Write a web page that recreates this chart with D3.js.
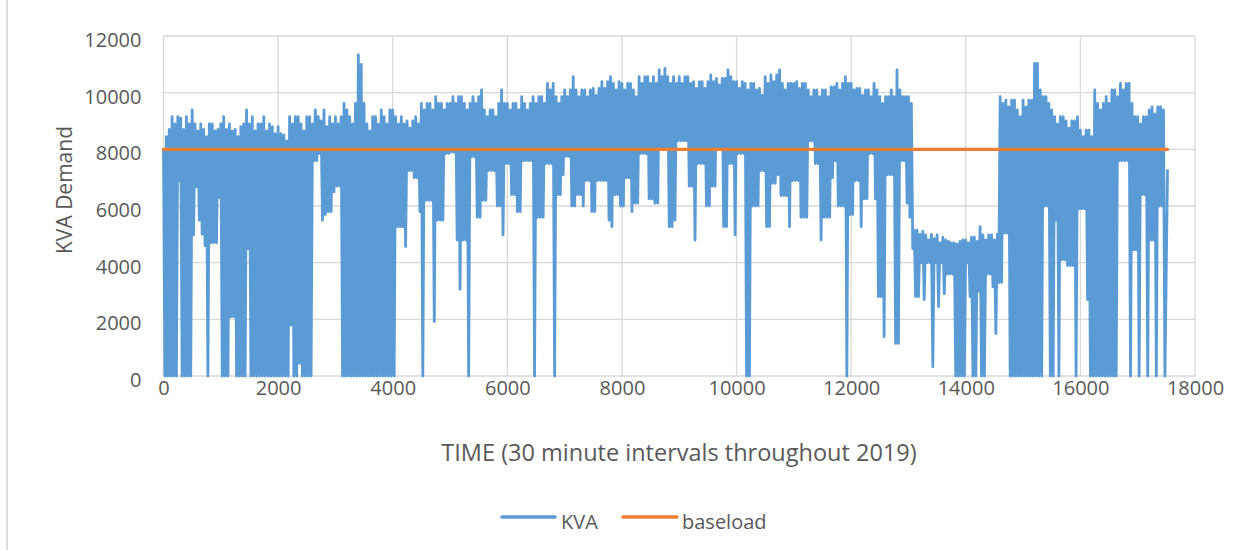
<!DOCTYPE html>
<html>
<head>
<meta charset="utf-8">
<script src="https://cdn.jsdelivr.net/npm/d3@7"></script>
<style>
  html, body { margin: 0; padding: 0; background: #ffffff; }
  svg { display: block; }
  text { font-family: "Open Sans", "Noto Sans", sans-serif; fill: #595959; }
</style>
</head>
<body>
<svg id="chart" width="1250" height="550"></svg>
<script>
// ---------------- DATA ----------------
// KVA demand, summarised per 50-interval block: the highest and lowest reading in each block.
const blockSize = 50;               // half-hour intervals per block
const kvaHigh = [
  8000, 8450, 8700, 9150, 8900, 9150, 9100, 8700, 9150, 8900, 9390, 8900, 8650, 8900, 8700, 8450, 8900, 8900, 8650, 8700,
  8900, 9150, 8700, 8900, 8650, 8700, 8450, 8800, 8900, 9390, 8900, 9150, 8650, 8900, 8900, 9150, 8650, 8900, 8800, 8550,
  8800, 8550, 8500, 8300, 9150, 8900, 9150, 9150, 8900, 8650, 9150, 9150, 8900, 9390, 9150, 9000, 9390, 8800, 9150, 8900,
  9150, 8900, 9150, 9620, 9390, 9150, 8900, 9620, 11330, 11000, 9620, 8900, 8650, 9150, 9150, 8900, 9390, 9150, 8900, 9390,
  9390, 9150, 8900, 9150, 8900, 9000, 8750, 9000, 9150, 8900, 9620, 9390, 9620, 9620, 9390, 9860, 9620, 9620, 9390, 9620,
  9620, 9860, 9620, 9860, 9860, 9620, 9390, 9620, 9860, 9620, 9860, 10100, 9390, 9150, 9390, 9390, 9150, 9620, 10100, 9620,
  9620, 9390, 9620, 9620, 9390, 9860, 9620, 9390, 9620, 9860, 9620, 9860, 9860, 9620, 10330, 10100, 10330, 9860, 9620, 9860,
  10100, 9860, 10100, 10565, 10100, 9860, 10100, 10100, 9860, 10100, 10150, 9900, 10150, 10390, 10150, 10390, 10565, 10330, 10100, 10390,
  10330, 10100, 10330, 10330, 10100, 9860, 10565, 10330, 10565, 10565, 10330, 10565, 10330, 10800, 10565, 10860, 10565, 10330, 10565, 10330,
  10565, 10330, 10565, 10565, 10330, 10390, 10150, 10390, 10390, 10150, 10390, 10624, 10390, 10500, 10270, 10500, 10500, 10800, 10565, 10390,
  10390, 10150, 10390, 10330, 10100, 10330, 10330, 10100, 10150, 9900, 10565, 10330, 10624, 10390, 10624, 10800, 10330, 10100, 10330, 10330,
  10330, 10390, 10150, 10330, 10330, 10100, 9860, 10100, 10100, 9860, 10100, 10100, 9860, 10200, 10200, 10330, 10100, 10330, 10565, 10330,
  10330, 10100, 10150, 10150, 9900, 10100, 10100, 9860, 10330, 10100, 9860, 9620, 9860, 9860, 10100, 9860, 10800, 10100, 9860, 9860,
  9860, 9620, 5150, 5150, 5000, 5100, 4980, 4800, 5000, 4850, 4980, 4700, 4900, 4800, 4750, 4700, 4700, 4650, 4750, 4800,
  4800, 4700, 4900, 4900, 4750, 5270, 4980, 4800, 4980, 4980, 4800, 5000, 9860, 9620, 9740, 9500, 9740, 9740, 9390, 9150,
  9740, 9500, 9740, 9740, 11035, 11035, 10100, 9860, 9860, 9620, 9390, 9150, 8900, 9150, 9150, 9000, 8750, 9000, 9000, 9150,
  8680, 8450, 8680, 8680, 8450, 10100, 9620, 9390, 9620, 9860, 9620, 10100, 10100, 9860, 10330, 10100, 10330, 10330, 9620, 9150,
  9150, 8900, 9150, 9150, 9390, 9500, 9250, 9500, 9500, 9390
];
const kvaLow = [
  0, 0, 0, 0, 0, 6900, 0, 0, 0, 0, 4980, 6680, 5500, 5000, 4600, 0, 4700, 4700, 4700, 6300,
  0, 0, 0, 2090, 2090, 0, 0, 0, 0, 4500, 0, 0, 0, 0, 0, 0, 0, 0, 0, 0,
  0, 0, 0, 0, 1800, 0, 0, 450, 0, 0, 0, 0, 7600, 7600, 7850, 5500, 5700, 5800, 5800, 6500,
  6700, 6700, 0, 0, 0, 0, 0, 0, 0, 0, 0, 0, 0, 0, 0, 0, 0, 0, 0, 0,
  0, 5270, 5270, 5270, 4570, 7250, 7250, 7000, 7000, 5800, 0, 6200, 6200, 6200, 1920, 5500, 5500, 5500, 7850, 7850,
  7900, 7900, 4800, 3060, 4800, 4800, 0, 7740, 7740, 5600, 5600, 6200, 6200, 7250, 7250, 7250, 6000, 6000, 4980, 7500,
  7500, 6400, 6400, 5800, 5800, 7600, 7600, 7600, 7600, 0, 5600, 5600, 5600, 7500, 7500, 7500, 0, 6400, 6400, 7100,
  7750, 7750, 6000, 6000, 6400, 6400, 6000, 6900, 6900, 5800, 5800, 6900, 6900, 6900, 6900, 5500, 5270, 6400, 6400, 6000,
  6000, 7000, 7000, 5800, 6100, 6100, 7850, 7850, 7850, 6250, 6250, 6100, 6100, 8000, 8000, 8000, 5270, 5270, 5500, 8300,
  8300, 8300, 8300, 6700, 6700, 4800, 7500, 7500, 7500, 6000, 6000, 6700, 6700, 8000, 8000, 5270, 5270, 7500, 7500, 4980,
  7850, 7850, 7850, 0, 0, 6000, 6000, 6000, 7250, 7250, 5270, 5270, 6800, 6800, 7100, 6370, 6370, 6370, 5270, 6900,
  6900, 6900, 5600, 5600, 5600, 8300, 8300, 7500, 7500, 4800, 5600, 5600, 5600, 7000, 7600, 6000, 6000, 6000, 0, 5700,
  5700, 6900, 6900, 5270, 6250, 6250, 7850, 7850, 6250, 2800, 2800, 1390, 7100, 7100, 7100, 1150, 1150, 7600, 7600, 6100,
  5600, 4500, 2800, 2800, 4000, 2700, 4000, 4000, 330, 4000, 2450, 4000, 2900, 3600, 3600, 3600, 0, 0, 0, 0,
  4000, 2800, 0, 0, 3000, 0, 0, 3600, 3600, 3150, 1500, 3300, 3300, 5040, 5040, 0, 0, 0, 0, 0,
  0, 0, 0, 0, 0, 0, 0, 6000, 6000, 0, 0, 5500, 0, 4100, 4100, 3900, 3900, 3900, 0, 5900,
  5900, 5900, 2700, 0, 0, 0, 0, 0, 0, 0, 0, 0, 0, 7600, 7600, 7600, 7600, 0, 4450, 4450,
  0, 6400, 6400, 0, 4800, 4800, 0, 6000, 6000, 0
];
const kvaLastTime = 17520;
const kvaLastValue = 7250;
const baseloadValue = 8000;

const xTicks = [0, 2000, 4000, 6000, 8000, 10000, 12000, 14000, 16000, 18000];
const yTicks = [0, 2000, 4000, 6000, 8000, 10000, 12000];
const xTitle = "TIME (30 minute intervals throughout 2019)";
const yTitle = "KVA Demand";
const seriesNames = ["KVA", "baseload"];
const seriesColors = ["#5B9BD5", "#ED7D31"];

// ---------------- CHART ----------------
const svg = d3.select("#chart");
const x = d3.scaleLinear().domain([0, 18000]).range([163.5, 1195]);
const y = d3.scaleLinear().domain([0, 12000]).range([376, 36]);

// outer chart-area border (left edge visible)
svg.append("line").attr("x1", 7).attr("x2", 7).attr("y1", 0).attr("y2", 550)
  .attr("stroke", "#d9d9d9").attr("stroke-width", 1.8);

// gridlines
svg.append("g").selectAll("line").data(yTicks).join("line")
  .attr("x1", x(0)).attr("x2", x(18000))
  .attr("y1", d => y(d)).attr("y2", d => y(d))
  .attr("stroke", "#d9d9d9").attr("stroke-width", 1.3);
svg.append("g").selectAll("line").data(xTicks).join("line")
  .attr("x1", d => x(d)).attr("x2", d => x(d))
  .attr("y1", y(0)).attr("y2", y(12000))
  .attr("stroke", "#d9d9d9").attr("stroke-width", 1.3);

// axes (labels only)
const yAxis = svg.append("g").attr("transform", `translate(${x(0) - 22},4)`)
  .call(d3.axisLeft(y).tickValues(yTicks).tickSize(0).tickPadding(0).tickFormat(d3.format("d")));
yAxis.select(".domain").remove();
yAxis.selectAll("text").style("font-family", '"Open Sans", sans-serif').style("font-size", "20px").attr("fill", "#595959");

const xAxis = svg.append("g").attr("transform", `translate(0,${y(0) + 5})`)
  .call(d3.axisBottom(x).tickValues(xTicks).tickSize(0).tickPadding(0).tickFormat(d3.format("d")));
xAxis.select(".domain").remove();
xAxis.selectAll("text").style("font-family", '"Open Sans", sans-serif').style("font-size", "20px").attr("fill", "#595959");

// KVA series: each block contributes its high then its low reading
const kvaPoints = [];
kvaHigh.forEach((h, i) => {
  kvaPoints.push([i * blockSize, h]);
  kvaPoints.push([i * blockSize + blockSize / 2, kvaLow[i]]);
});
kvaPoints.push([kvaLastTime, kvaLastValue]);

const line = d3.line().x(d => x(d[0])).y(d => y(d[1]));
svg.append("path").datum(kvaPoints)
  .attr("d", line)
  .attr("fill", "none")
  .attr("stroke", seriesColors[0])
  .attr("stroke-width", 2.8)
  .attr("stroke-linejoin", "round")
  .attr("stroke-linecap", "round");

svg.append("path").datum([[0, baseloadValue], [kvaLastTime, baseloadValue]])
  .attr("d", line)
  .attr("fill", "none")
  .attr("stroke", seriesColors[1])
  .attr("stroke-width", 3.4)
  .attr("stroke-linecap", "round");

// axis titles
svg.append("text").attr("x", 679).attr("y", 452).attr("text-anchor", "middle")
  .attr("dominant-baseline", "central").style("font-size", "23.5px").text(xTitle);
svg.append("text").attr("transform", "translate(64,190) rotate(-90)").attr("text-anchor", "middle")
  .attr("dominant-baseline", "central").style("font-size", "21px").text(yTitle);

// legend
const legendItems = [
  { name: seriesNames[0], color: seriesColors[0], x1: 502, x2: 555, tx: 561 },
  { name: seriesNames[1], color: seriesColors[1], x1: 623, x2: 677, tx: 682 }
];
const lg = svg.append("g");
legendItems.forEach(it => {
  lg.append("line").attr("x1", it.x1).attr("x2", it.x2).attr("y1", 517).attr("y2", 517)
    .attr("stroke", it.color).attr("stroke-width", 3.4).attr("stroke-linecap", "round");
  lg.append("text").attr("x", it.tx).attr("y", 521).attr("dominant-baseline", "central")
    .style("font-size", "20px").text(it.name);
});
</script>
</body>
</html>
